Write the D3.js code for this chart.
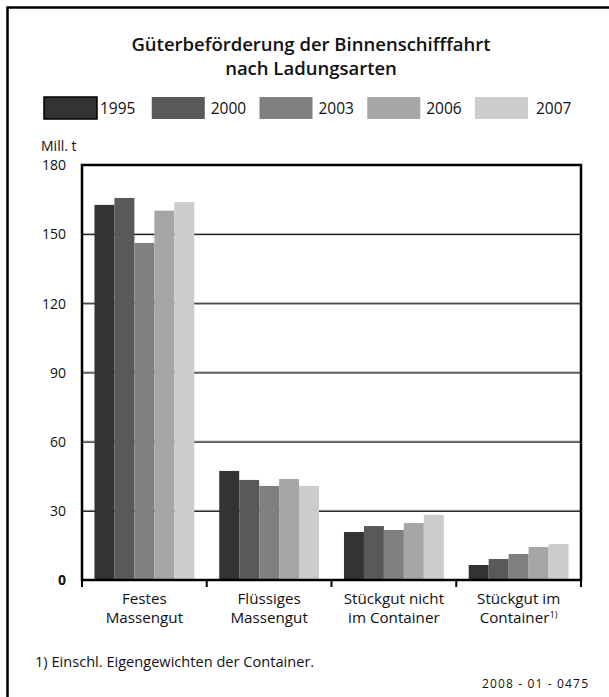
<!DOCTYPE html>
<html><head><meta charset="utf-8">
<script src="https://cdn.jsdelivr.net/npm/d3@7"></script>
<style>
html,body{margin:0;padding:0;background:#fff;}
svg{display:block;font-family:"Open Sans",sans-serif;}
</style></head>
<body>
<svg id="c" width="609" height="697"></svg>
<script>
const categories = [["Festes","Massengut"],["Flüssiges","Massengut"],["Stückgut nicht","im Container"],["Stückgut im","Container"]];
const years = ["1995","2000","2003","2006","2007"];
const v1995 = [162.7, 47.3, 20.8, 6.5];
const v2000 = [165.7, 43.4, 23.4, 9.1];
const v2003 = [146.2, 40.8, 21.7, 11.3];
const v2006 = [160.2, 43.8, 24.7, 14.3];
const v2007 = [163.9, 40.8, 28.2, 15.6];
const series = [v1995, v2000, v2003, v2006, v2007];
const colors = ["#333333","#595959","#808080","#a6a6a6","#cccccc"];
const yTicks = [0,30,60,90,120,150,180];

const svg = d3.select("#c");
const L = 82, R = 581, T = 165, B = 580;

// outer frame (only top/left visible)
svg.append("path").attr("d","M7.5,697 V7.5 H609").attr("fill","none").attr("stroke","#000").attr("stroke-width",2.5);

// title
const title = svg.append("text").attr("x",311).attr("text-anchor","middle")
  .style("font-weight","600").style("font-size","18.5px").attr("fill","#111");
title.append("tspan").attr("x",311).attr("y",51).text("Güterbeförderung der Binnenschifffahrt");
title.append("tspan").attr("x",311).attr("y",75).text("nach Ladungsarten");

// legend
const lx = d3.scalePoint().domain(years).range([44, 475]);
const lg = svg.append("g").selectAll("g").data(years).join("g")
  .attr("transform", d => `translate(${lx(d)},97)`);
lg.append("rect").attr("width",53).attr("height",22)
  .attr("fill",(d,i)=>colors[i])
  .attr("stroke",(d,i)=> i===0 ? "#000" : "none").attr("stroke-width",1.5);
lg.append("text").attr("x",(d,i)=> i===0 ? 56 : (i===4 ? 61 : 59)).attr("y",16.5).style("font-size","15.5px").attr("fill","#111").text(d=>d);

// scales
const x0 = d3.scaleBand().domain(d3.range(categories.length)).range([L, R]).paddingInner(0.2).paddingOuter(0.1);
const x1 = d3.scaleBand().domain(years).range([0, x0.bandwidth()]);
const y = d3.scaleLinear().domain([0,180]).range([B, T]);

// gridlines
const grid = svg.append("g").selectAll("g").data(yTicks.filter(t=>t>0 && t<180)).join("g");
grid.append("line").attr("x1",L).attr("x2",R).attr("y1",d=>y(d)-0.5).attr("y2",d=>y(d)-0.5)
  .attr("stroke","#999").attr("stroke-width",1);
grid.append("line").attr("x1",L).attr("x2",R).attr("y1",d=>y(d)+0.5).attr("y2",d=>y(d)+0.5)
  .attr("stroke","#000").attr("stroke-width",1);

// bars
const groups = svg.append("g").selectAll("g").data(categories).join("g")
  .attr("transform",(d,i)=>`translate(${x0(i)},0)`);
groups.selectAll("rect").data((d,i)=>years.map((yr,j)=>({yr, v: series[j][i], j})))
  .join("rect")
  .attr("x",d=>x1(d.yr)).attr("width",x1.bandwidth())
  .attr("y",d=>y(d.v)).attr("height",d=>B - y(d.v))
  .attr("fill",d=>colors[d.j]);

// frame of plot area
svg.append("rect").attr("x",L).attr("y",T).attr("width",R-L).attr("height",B-T)
  .attr("fill","none").attr("stroke","#000").attr("stroke-width",2.5);

// y axis labels
const yAxis = d3.axisLeft(y).tickValues(yTicks).tickSize(0).tickPadding(16);
const ya = svg.append("g").attr("transform",`translate(${L},0)`).call(yAxis);
ya.select(".domain").remove();
ya.selectAll("text").style("font-size","14px").style("font-family","'Open Sans',sans-serif").attr("fill","#111")
  .attr("dy","0.34em")
  .style("font-weight",d=>d===0?"700":"400");

svg.append("text").attr("x",41).attr("y",151).style("font-size","14px").attr("fill","#111").text("Mill. t");

// x axis ticks
const xEdges = d3.range(categories.length+1).map(i => L + (R-L)*i/categories.length);
svg.append("g").selectAll("line").data(xEdges).join("line")
  .attr("x1",d=>d).attr("x2",d=>d).attr("y1",B).attr("y2",B+7)
  .attr("stroke","#000").attr("stroke-width",2);

// x labels
const xl = svg.append("g").selectAll("text").data(categories).join("text")
  .attr("text-anchor","middle").style("font-size","15.2px").attr("fill","#111");
xl.each(function(d,i){
  const cx = x0(i) + x0.bandwidth()/2;
  const t = d3.select(this);
  t.append("tspan").attr("x",cx).attr("y",604).text(d[0]);
  t.append("tspan").attr("x",cx).attr("y",623).text(d[1]);
  if(i===3){ t.append("tspan").attr("dy",-5).style("font-size","9.5px").text("1)"); }
});

// footnote
svg.append("text").attr("x",35).attr("y",667).style("font-size","14.6px").attr("fill","#111").text("1) Einschl. Eigengewichten der Container.");
svg.append("text").attr("x",588).attr("y",688).attr("text-anchor","end").style("font-size","12px").attr("fill","#111")
  .attr("textLength",106).attr("lengthAdjust","spacing").text("2008 - 01 - 0475");
</script>
</body></html>
